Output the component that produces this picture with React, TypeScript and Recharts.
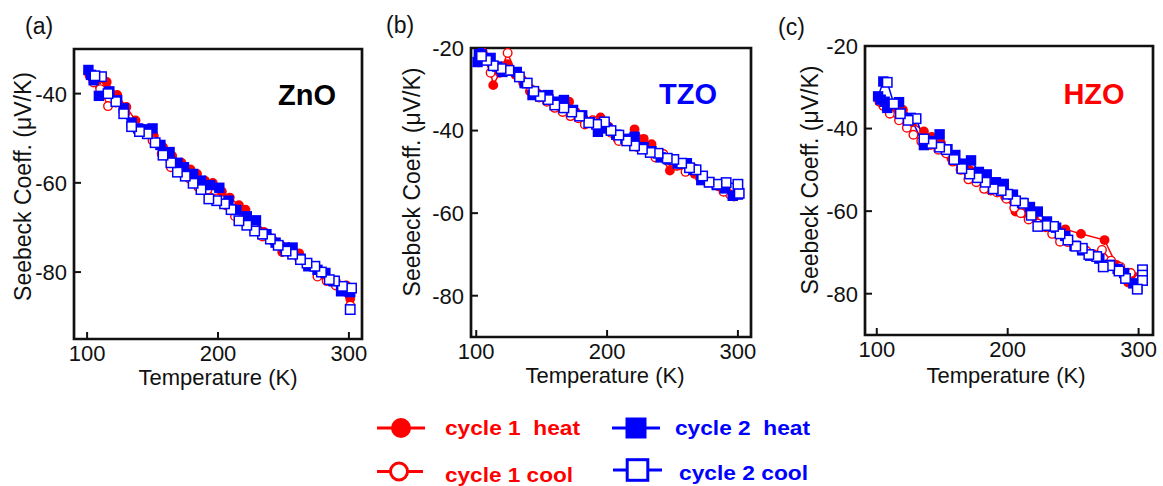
import { ComposedChart, Line, XAxis, YAxis, ReferenceArea } from 'recharts'

type Pt = [number, number]

// [temperature K, Seebeck coefficient uV/K]
const znoHeat1: Pt[] = [
  [101, -35.2], [104, -36.5], [108, -37.0], [115, -37.4], [123, -40.3], [130, -43.0], [137, -46.0],
  [144, -48.0], [151, -49.5], [158, -52.0], [165, -54.0], [172, -55.5], [179, -57.0], [184, -58.0],
  [190, -59.5], [196, -60.0], [203, -62.0], [209, -63.3], [216, -65.0], [221, -66.0], [228, -68.5],
  [235, -71.0], [242, -73.0], [249, -75.5], [256, -75.0], [262, -75.8], [268, -78.0], [275, -79.0],
  [282, -80.5], [290, -82.0], [298, -83.0], [301, -86.0],
]
const znoCool1: Pt[] = [
  [301, -87.5], [298, -84.5], [290, -83.0], [283, -82.0], [276, -81.0], [269, -78.5], [262, -77.0],
  [255, -75.5], [248, -74.0], [241, -72.5], [234, -72.0], [227, -69.5], [220, -68.0], [213, -67.5],
  [206, -65.0], [199, -63.5], [192, -61.5], [185, -61.0], [178, -59.0], [171, -57.0], [164, -56.5],
  [157, -53.5], [150, -50.5], [143, -48.5], [136, -47.0], [129, -44.5], [122, -42.0], [116, -42.8],
  [110, -39.0], [105, -37.5], [102, -36.0],
]
const znoHeat2: Pt[] = [
  [101, -34.7], [103, -35.8], [105, -37.0], [109, -40.5], [117, -39.5], [123, -41.5], [128, -43.3],
  [134, -46.5], [139, -47.8], [145, -48.0], [150, -47.8], [156, -51.5], [163, -53.1], [169, -55.5],
  [174, -56.5], [181, -58.0], [187, -59.5], [194, -60.5], [201, -61.1], [208, -64.0], [214, -66.1],
  [222, -67.5], [229, -68.4], [237, -71.5], [244, -73.4], [251, -74.5], [257, -74.5], [263, -77.0],
  [269, -78.7], [276, -79.5], [282, -80.2], [288, -82.0], [294, -84.3], [301, -84.5],
]
const znoCool2: Pt[] = [
  [302, -83.6], [301, -88.4], [295, -83.2], [289, -82.0], [285, -81.7], [279, -80.0], [274, -78.7],
  [268, -78.0], [263, -77.2], [257, -76.0], [252, -75.3], [246, -74.0], [240, -72.6], [234, -71.5],
  [228, -70.8], [222, -69.5], [216, -68.5], [210, -66.0], [205, -64.7], [199, -64.0], [193, -63.6],
  [187, -61.5], [181, -60.1], [175, -58.5], [169, -57.6], [164, -55.5], [158, -53.8], [152, -51.0],
  [146, -49.0], [140, -48.5], [134, -47.4], [128, -44.5], [122, -41.8], [116, -40.0], [111, -36.2],
  [106, -36.0],
]

const tzoHeat1: Pt[] = [
  [102, -23.5], [105, -21.0], [109, -22.5], [113, -29.0], [118, -26.0], [124, -23.9], [130, -26.5],
  [135, -27.6], [141, -30.5], [147, -31.0], [153, -31.5], [159, -33.0], [165, -33.5], [171, -33.0],
  [176, -35.5], [182, -37.0], [188, -38.0], [195, -36.8], [201, -39.0], [208, -42.0], [215, -42.5],
  [221, -39.7], [228, -42.0], [234, -43.3], [241, -46.5], [248, -49.7], [254, -48.5], [261, -49.3],
  [267, -50.5], [273, -51.0], [279, -52.5], [285, -53.5], [291, -54.5], [297, -56.0],
]
const tzoCool1: Pt[] = [
  [301, -55.5], [294, -55.5], [289, -54.8], [283, -53.0], [277, -52.5], [271, -51.5], [266, -49.1],
  [260, -50.0], [253, -48.5], [249, -47.5], [243, -45.7], [237, -46.5], [230, -44.5], [223, -44.0],
  [216, -42.0], [209, -42.5], [203, -40.5], [196, -38.5], [189, -37.5], [183, -38.5], [178, -37.0],
  [172, -36.5], [166, -35.5], [160, -34.5], [154, -33.0], [148, -32.0], [142, -30.0], [136, -28.5],
  [130, -26.0], [124, -21.2], [120, -24.5], [114, -24.5], [111, -26.0], [106, -22.5], [102, -22.0],
]
const tzoHeat2: Pt[] = [
  [101, -23.4], [102, -21.0], [104, -21.5], [108, -22.5], [111, -22.4], [116, -24.5], [120, -25.8],
  [125, -25.5], [131, -25.8], [137, -28.5], [143, -31.4], [149, -31.5], [155, -31.4], [161, -33.0],
  [167, -32.6], [174, -35.0], [181, -36.3], [187, -38.0], [193, -40.3], [200, -39.5], [207, -41.0],
  [214, -42.0], [221, -41.5], [228, -44.0], [234, -45.0], [241, -46.5], [247, -47.0], [254, -48.0],
  [261, -47.9], [266, -49.5], [272, -52.0], [278, -52.5], [284, -53.2], [290, -54.0], [296, -55.8],
  [300, -55.5],
]
const tzoCool2: Pt[] = [
  [301, -55.2], [300, -53.0], [291, -52.6], [284, -53.0], [278, -52.5], [273, -51.0], [268, -49.5],
  [263, -49.0], [257, -47.9], [251, -47.0], [246, -46.7], [239, -45.5], [233, -45.3], [227, -44.5],
  [221, -43.7], [215, -42.5], [209, -41.1], [203, -40.0], [198, -37.9], [192, -38.5], [186, -38.1],
  [179, -36.5], [173, -35.5], [167, -34.5], [160, -33.8], [155, -32.5], [149, -31.7], [144, -30.5],
  [139, -28.5], [133, -27.0], [125, -25.4], [119, -25.0], [113, -24.3], [108, -23.0], [104, -22.0],
]

const hzoHeat1: Pt[] = [
  [102, -33.0], [105, -33.5], [108, -34.5], [114, -35.0], [120, -35.5], [127, -38.5], [136, -40.7],
  [142, -42.0], [149, -43.5], [157, -47.2], [164, -48.5], [171, -50.0], [177, -52.0], [184, -53.5],
  [191, -55.0], [198, -56.5], [206, -60.1], [213, -60.5], [220, -61.5], [228, -63.0], [236, -64.0],
  [244, -64.4], [256, -65.5], [274, -67.0], [283, -73.0], [292, -77.3], [298, -76.0],
]
const hzoCool1: Pt[] = [
  [300, -76.5], [294, -75.0], [286, -73.5], [279, -72.0], [272, -69.4], [266, -70.5], [260, -69.6],
  [253, -68.5], [246, -67.5], [240, -67.4], [234, -65.5], [229, -63.9], [223, -63.0], [216, -62.0],
  [210, -60.5], [205, -59.2], [199, -57.0], [192, -55.5], [187, -55.0], [182, -54.6], [176, -53.0],
  [170, -52.3], [164, -50.0], [158, -48.0], [153, -46.0], [147, -45.1], [141, -44.0], [134, -43.1],
  [128, -41.5], [123, -39.8], [117, -38.0], [110, -36.4], [105, -34.5], [102, -33.5],
]
const hzoHeat2: Pt[] = [
  [105, -28.6], [101, -32.2], [103, -33.0], [106, -33.5], [108, -35.0], [117, -33.6], [126, -37.4],
  [136, -44.0], [141, -43.0], [148, -41.4], [154, -45.0], [160, -46.4], [166, -48.5], [172, -47.7],
  [178, -50.5], [184, -51.1], [191, -53.0], [197, -53.4], [204, -56.0], [211, -58.0], [217, -59.0],
  [223, -60.1], [230, -62.5], [237, -64.0], [244, -66.0], [251, -68.4], [257, -69.5], [263, -70.8],
  [270, -71.5], [278, -73.0], [284, -74.0], [289, -75.0], [296, -77.5], [299, -78.5],
]
const hzoCool2: Pt[] = [
  [303, -74.2], [303, -75.5], [303, -76.8], [299, -78.9], [290, -76.3], [285, -74.5], [278, -73.2],
  [273, -73.5], [268, -71.0], [262, -70.5], [257, -69.0], [252, -68.5], [246, -67.0], [240, -65.5],
  [235, -63.7], [229, -63.5], [223, -63.7], [218, -61.0], [212, -58.1], [206, -57.5], [200, -55.9],
  [195, -55.0], [189, -54.6], [183, -53.0], [177, -51.9], [171, -51.0], [165, -49.7], [159, -47.5],
  [153, -45.1], [148, -44.5], [142, -43.6], [136, -42.5], [130, -37.6], [124, -38.0], [118, -36.4],
  [113, -34.0], [108, -28.8],
]

const T_TICKS = [100, 200, 300]
const S_TICKS_ZNO = [-40, -60, -80]
const S_TICKS = [-20, -40, -60, -80]

const SERIES_LABELS = ['cycle 1  heat', 'cycle 1 cool', 'cycle 2  heat', 'cycle 2 cool']

const RED = '#ff0000'
const BLUE = '#0000ff'
const INK = '#111'
const FONT = '"Liberation Sans", Arial, Helvetica, sans-serif'

const Y_AXIS_W = 80
const CHART_H = 400
const TICK_GAP = 7
const TICK_IN = 7
const TICK_FONT = 22

type MarkKind = 'disc' | 'ring' | 'block' | 'box'
const SERIES_STYLE: { color: string; kind: MarkKind }[] = [
  { color: RED, kind: 'disc' },
  { color: RED, kind: 'ring' },
  { color: BLUE, kind: 'block' },
  { color: BLUE, kind: 'box' },
]

const PANELS = [
  {
    tag: '(a)', tagX: 25, tagY: 34, name: 'ZnO', nameColor: '#000', nameX: 307, nameY: 105,
    left: 74, top: 49, right: 362, bottom: 339, tDomain: [90, 310], sDomain: [-95, -30], sTicks: S_TICKS_ZNO,
    yLabelDx: -11, yLabelDy: -7.5, xLabelDx: 0, xLabelOffset: 15,
    series: [znoHeat1, znoCool1, znoHeat2, znoCool2],
  },
  {
    tag: '(b)', tagX: 386, tagY: 33, name: 'TZO', nameColor: BLUE, nameX: 688, nameY: 104,
    left: 471, top: 48, right: 751, bottom: 337, tDomain: [96, 310], sDomain: [-90, -20], sTicks: S_TICKS,
    yLabelDx: -19, yLabelDy: -10.5, xLabelDx: -6, xLabelOffset: 17,
    series: [tzoHeat1, tzoCool1, tzoHeat2, tzoCool2],
  },
  {
    tag: '(c)', tagX: 778, tagY: 35, name: 'HZO', nameColor: RED, nameX: 1094, nameY: 104,
    left: 865, top: 46, right: 1153, bottom: 335, tDomain: [91, 311], sDomain: [-90, -20], sTicks: S_TICKS,
    yLabelDx: -15, yLabelDy: -10.5, xLabelDx: -3, xLabelOffset: 17,
    series: [hzoHeat1, hzoCool1, hzoHeat2, hzoCool2],
  },
]

const toRows = (pts: Pt[]) => pts.map(([t, s]) => ({ t, s }))

function mark(kind: MarkKind, color: string, cx: number, cy: number, big = false, key?: number) {
  if (kind === 'disc') return <circle key={key} cx={cx} cy={cy} r={big ? 10 : 4.9} fill={color} />
  if (kind === 'ring') {
    return <circle key={key} cx={cx} cy={cy} r={big ? 8.5 : 4.3} fill="#fff" stroke={color} strokeWidth={big ? 3 : 1.4} />
  }
  if (kind === 'block') {
    const h = big ? 10.5 : 5.2
    return <rect key={key} x={cx - h} y={cy - h} width={h * 2} height={h * 2} fill={color} />
  }
  const h = big ? 10.3 : 4.7
  return (
    <rect key={key} x={cx - h} y={cy - h} width={h * 2} height={h * 2} fill="#fff" stroke={color} strokeWidth={big ? 3 : 1.5} />
  )
}

// inward tick marks, labels outside the frame
const YTick = (p: any) => {
  const edge = p.x + TICK_GAP
  return (
    <g>
      <line x1={edge} x2={edge + TICK_IN} y1={p.y} y2={p.y} stroke={INK} strokeWidth={2} />
      <text x={p.x} y={p.y} dy="0.36em" textAnchor="end" fontSize={TICK_FONT} fontFamily={FONT} fill={INK}>
        {p.payload.value}
      </text>
    </g>
  )
}

const XTick = (p: any) => {
  const edge = p.y - TICK_GAP
  return (
    <g>
      <line x1={p.x} x2={p.x} y1={edge} y2={edge - TICK_IN} stroke={INK} strokeWidth={2} />
      <text x={p.x} y={p.y} dy="0.68em" textAnchor="middle" fontSize={TICK_FONT} fontFamily={FONT} fill={INK}>
        {p.payload.value}
      </text>
    </g>
  )
}

function Panel({ cfg }: { cfg: (typeof PANELS)[number] }) {
  const plotW = cfg.right - cfg.left
  const rightPad = 20
  return (
    <div style={{ position: 'absolute', left: cfg.left - Y_AXIS_W, top: 0 }}>
      <ComposedChart
        width={Y_AXIS_W + plotW + rightPad}
        height={CHART_H}
        margin={{ top: cfg.top, right: rightPad, left: 0, bottom: 0 }}
      >
        <XAxis
          dataKey="t"
          type="number"
          domain={cfg.tDomain}
          ticks={T_TICKS}
          allowDataOverflow
          height={CHART_H - cfg.bottom}
          axisLine={false}
          tickLine={false}
          tickSize={0}
          tickMargin={TICK_GAP}
          tick={XTick}
          label={{
            value: 'Temperature (K)', position: 'insideBottom', offset: cfg.xLabelOffset, dx: cfg.xLabelDx,
            fontSize: 22, fontFamily: FONT, fill: INK,
          }}
        />
        <YAxis
          dataKey="s"
          type="number"
          domain={cfg.sDomain}
          ticks={cfg.sTicks}
          allowDataOverflow
          width={Y_AXIS_W}
          axisLine={false}
          tickLine={false}
          tickSize={0}
          tickMargin={TICK_GAP}
          tick={YTick}
          label={{
            value: 'Seebeck Coeff. (\u03bcV/K)', angle: -90, position: 'center', dx: cfg.yLabelDx, dy: cfg.yLabelDy,
            fontSize: 23, fontFamily: FONT, fill: INK,
          }}
        />
        {cfg.series.map((pts, i) => {
          const st = SERIES_STYLE[i]
          return (
            <Line
              key={SERIES_LABELS[i]}
              data={toRows(pts)}
              dataKey="s"
              type="linear"
              stroke={st.color}
              strokeWidth={1.5}
              dot={(p: any) => mark(st.kind, st.color, p.cx, p.cy, false, p.index)}
              activeDot={false}
              isAnimationActive={false}
            />
          )
        })}
        <ReferenceArea
          x1={cfg.tDomain[0]}
          x2={cfg.tDomain[1]}
          y1={cfg.sDomain[0]}
          y2={cfg.sDomain[1]}
          fill="none"
          stroke={INK}
          strokeWidth={2.7}
          ifOverflow="visible"
        />
      </ComposedChart>
    </div>
  )
}

// legend rows: glyph line span, glyph centre, text start/width, baseline
const LEGEND = [
  { x1: 377, x2: 425, cx: 401, cy: 428, tx: 445, tw: 135, ty: 435 },
  { x1: 377, x2: 423, cx: 399, cy: 471.5, tx: 445, tw: 128, ty: 481.5 },
  { x1: 612, x2: 660, cx: 636, cy: 428, tx: 675, tw: 135, ty: 435 },
  { x1: 613, x2: 662, cx: 637.5, cy: 470, tx: 679, tw: 129, ty: 480 },
]

export default function App() {
  return (
    <div
      style={{
        position: 'absolute', left: 0, top: 0, width: 1163, height: 486,
        overflow: 'hidden', background: '#fff', fontFamily: FONT,
      }}
    >
      {PANELS.map(cfg => <Panel key={cfg.name} cfg={cfg} />)}
      <svg width={1163} height={486} style={{ position: 'absolute', left: 0, top: 0, pointerEvents: 'none' }}>
        {PANELS.map(cfg => (
          <g key={cfg.tag}>
            <text x={cfg.tagX} y={cfg.tagY} fontSize={23} fontFamily={FONT} fill={INK}>{cfg.tag}</text>
            <text x={cfg.nameX} y={cfg.nameY} textAnchor="middle" fontSize={29} fontWeight="bold" fontFamily={FONT} fill={cfg.nameColor}>
              {cfg.name}
            </text>
          </g>
        ))}
        {LEGEND.map((row, i) => {
          const st = SERIES_STYLE[i]
          return (
            <g key={SERIES_LABELS[i]}>
              <line x1={row.x1} x2={row.x2} y1={row.cy} y2={row.cy} stroke={st.color} strokeWidth={3} />
              {mark(st.kind, st.color, row.cx, row.cy, true)}
              <text
                x={row.tx}
                y={row.ty}
                fontSize={20}
                fontWeight="bold"
                fontFamily={FONT}
                fill={st.color}
                textLength={row.tw}
                lengthAdjust="spacingAndGlyphs"
                style={{ whiteSpace: 'pre' }}
              >
                {SERIES_LABELS[i]}
              </text>
            </g>
          )
        })}
      </svg>
    </div>
  )
}
